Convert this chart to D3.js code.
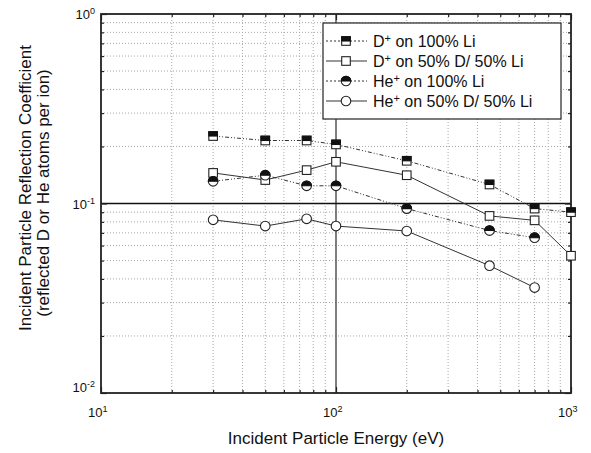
<!DOCTYPE html>
<html><head><meta charset="utf-8">
<script src="https://cdn.jsdelivr.net/npm/d3@7"></script>
<style>body{margin:0;background:#fff}svg{display:block;font-family:"Liberation Sans",Arial,sans-serif}</style>
</head><body>
<svg id="c" width="591" height="453"></svg>
<script>
const energies = [30, 50, 75, 100, 200, 450, 700, 1000];
const dLi   = [0.227, 0.215, 0.215, 0.205, 0.168, 0.126, 0.094, 0.090];
const dDLi  = [0.145, 0.133, 0.150, 0.166, 0.141, 0.086, 0.0815, 0.053];
const heLi  = [0.131, 0.141, 0.124, 0.124, 0.094, 0.072, 0.066];
const heDLi = [0.082, 0.076, 0.083, 0.076, 0.0716, 0.047, 0.036];
const seriesNames = ["D+ on 100% Li","D+ on 50% D/ 50% Li","He+ on 100% Li","He+ on 50% D/ 50% Li"];
const xMajor = [10, 100, 1000];
const yMajor = [0.01, 0.1, 1];

const svg = d3.select("#c");
const L=101, R=571, T=14, B=393;
const x = d3.scaleLog().domain([10,1000]).range([L,R]);
const y = d3.scaleLog().domain([0.01,1]).range([B,T]);

const minorOf = (lo,hi)=>{const a=[];for(let d=lo;d<hi;d*=10)for(let k=2;k<=9;k++)a.push(d*k);return a;};
const xMinor = minorOf(10,1000), yMinor = minorOf(0.01,1);

// grid
const g = svg.append("g");
g.selectAll(".gx").data(xMinor).join("line")
  .attr("x1",d=>x(d)).attr("x2",d=>x(d)).attr("y1",T).attr("y2",B)
  .attr("stroke","#a8a8a8").attr("stroke-width",1).attr("stroke-dasharray","1,2");
g.selectAll(".gy").data(yMinor).join("line")
  .attr("y1",d=>y(d)).attr("y2",d=>y(d)).attr("x1",L).attr("x2",R)
  .attr("stroke","#a8a8a8").attr("stroke-width",1).attr("stroke-dasharray","1,2");
// major inner lines
g.append("line").attr("x1",x(100)).attr("x2",x(100)).attr("y1",T).attr("y2",B).attr("stroke","#555").attr("stroke-width",1.5);
g.append("line").attr("y1",y(0.1)).attr("y2",y(0.1)).attr("x1",L).attr("x2",R).attr("stroke","#111").attr("stroke-width",1.3);

// axes with inward ticks
function addAxis(gen, tr, vals, size){
  svg.append("g").attr("transform",tr)
    .call(gen.tickValues(vals).tickSize(size).tickFormat(""))
    .call(s=>s.select(".domain").remove())
    .selectAll("line").attr("stroke","#222").attr("stroke-width",1.2);
}
addAxis(d3.axisLeft(y), `translate(${L},0)`, yMinor, -3);
addAxis(d3.axisLeft(y), `translate(${L},0)`, yMajor, -6);
addAxis(d3.axisRight(y), `translate(${R},0)`, yMinor, -3);
addAxis(d3.axisRight(y), `translate(${R},0)`, yMajor, -6);
addAxis(d3.axisBottom(x), `translate(0,${B})`, xMinor, -3);
addAxis(d3.axisBottom(x), `translate(0,${B})`, xMajor, -6);
addAxis(d3.axisTop(x), `translate(0,${T})`, xMinor, -3);
addAxis(d3.axisTop(x), `translate(0,${T})`, xMajor, -6);

// frame
svg.append("rect").attr("x",L).attr("y",T).attr("width",R-L).attr("height",B-T)
  .attr("fill","none").attr("stroke","#222").attr("stroke-width",1.8);

// tick labels
function pow10(sel, v){
  const e = Math.round(Math.log10(v));
  sel.append("tspan").text("10");
  sel.append("tspan").attr("font-size",9).attr("dy",-5).text(String(e));
}
yMajor.forEach((v,i)=>{
  const off = i===0 ? -1 : 5;
  const t=svg.append("text").attr("x",L-6).attr("y",y(v)+off).attr("text-anchor","end").attr("font-size",13).attr("fill","#111");
  pow10(t,v);
});
xMajor.forEach(v=>{
  const t=svg.append("text").attr("x",x(v)-13).attr("y",B+24).attr("font-size",13).attr("fill","#111");
  pow10(t,v);
});

// axis titles
svg.append("text").attr("x",(L+R)/2).attr("y",444).attr("text-anchor","middle").attr("font-size",17).attr("fill","#111").text("Incident Particle Energy (eV)");
svg.append("text").attr("transform","translate(31,188) rotate(-90)").attr("text-anchor","middle").attr("font-size",17).attr("fill","#111").text("Incident Particle Reflection Coefficient");
svg.append("text").attr("transform","translate(49,193) rotate(-90)").attr("text-anchor","middle").attr("font-size",17).attr("fill","#111").text("(reflected D or He atoms per ion)");

// series
const series = [
  {vals:dLi, dash:"4,2,1,2,1,2", mark:"sqHalf"},
  {vals:dDLi, dash:null, mark:"sq"},
  {vals:heLi, dash:"4,2,1,2,1,2", mark:"ciHalf"},
  {vals:heDLi, dash:null, mark:"ci"}
];
function marker(gp, type){
  const s=4.3;
  if(type==="sq"||type==="sqHalf"){
    gp.append("rect").attr("x",-s).attr("y",-s).attr("width",2*s).attr("height",2*s).attr("fill","#fff").attr("stroke","#222").attr("stroke-width",1.1);
    if(type==="sqHalf") gp.append("rect").attr("x",-s).attr("y",-s).attr("width",2*s).attr("height",s).attr("fill","#111").attr("stroke","#111").attr("stroke-width",1.1);
  } else {
    const r=4.8;
    gp.append("circle").attr("r",r).attr("fill","#fff").attr("stroke","#222").attr("stroke-width",1.1);
    if(type==="ciHalf") gp.append("path").attr("d",`M${-r},0 A${r},${r} 0 0 1 ${r},0 Z`).attr("fill","#111").attr("stroke","#111").attr("stroke-width",1.1);
  }
}
const line = d3.line().x(d=>x(d[0])).y(d=>y(d[1]));
series.forEach(s=>{
  const pts = s.vals.map((v,i)=>[energies[i],v]);
  svg.append("path").datum(pts).attr("d",line).attr("fill","none").attr("stroke","#333").attr("stroke-width",1)
    .attr("stroke-dasharray",s.dash);
  pts.forEach(p=>marker(svg.append("g").attr("transform",`translate(${x(p[0])},${y(p[1])})`), s.mark));
});

// legend
const lg = svg.append("g");
lg.append("rect").attr("x",323).attr("y",23).attr("width",238).attr("height",96).attr("fill","#fff").attr("stroke","#222").attr("stroke-width",1.2);
const rowsY=[41,61,81,101];
series.forEach((s,i)=>{
  const yy=rowsY[i];
  lg.append("line").attr("x1",326).attr("x2",367).attr("y1",yy).attr("y2",yy).attr("stroke","#333").attr("stroke-width",1).attr("stroke-dasharray",s.dash?"2,2":null);
  marker(lg.append("g").attr("transform",`translate(346,${yy})`), s.mark);
  const nm = seriesNames[i];
  const [ion, rest] = [nm.split("+")[0], nm.split("+")[1]];
  const t = lg.append("text").attr("x",373).attr("y",yy+6).attr("font-size",16).attr("fill","#111");
  t.append("tspan").text(ion);
  t.append("tspan").attr("font-size",11).attr("dy",-5).text("+");
  t.append("tspan").attr("dy",5).text(rest);
});
</script>
</body></html>
